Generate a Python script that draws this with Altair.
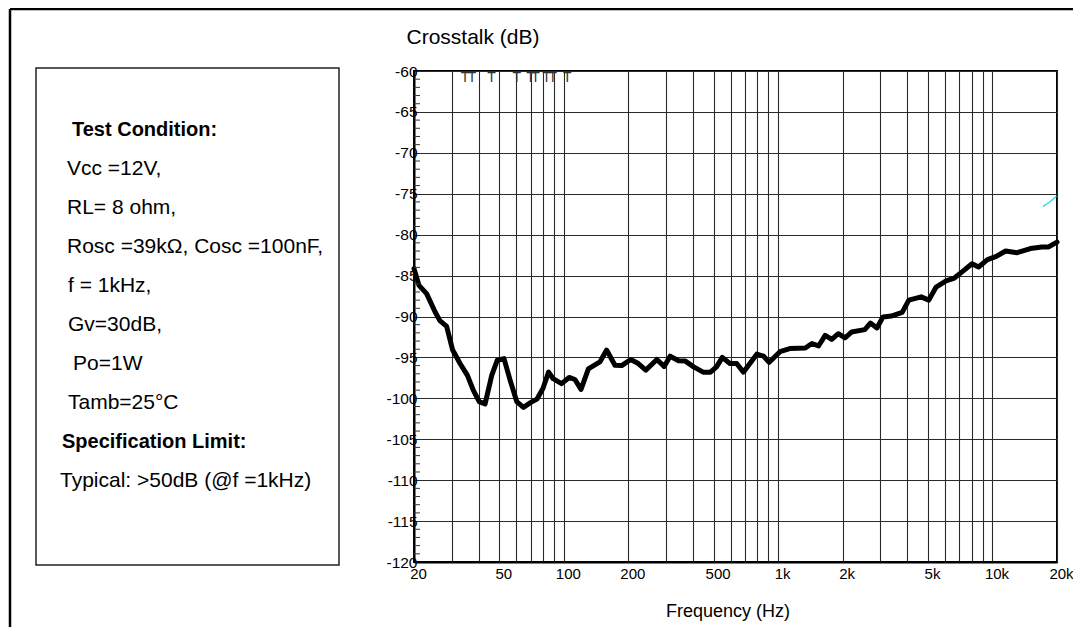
import altair as alt
import pandas as pd

# ---------------- data ----------------
freq_hz = [20, 21.1, 22.9, 25.1, 26.4, 28.4, 30.3, 32.8, 35.5, 37.8, 40.3, 42.9, 46.1, 48.9,
           52.6, 56.2, 60.3, 64.8, 70.2, 74.9, 79.9, 84.9, 89.2, 97.6, 105.9, 112.7, 120.3,
           130.2, 147.3, 158.4, 173.2, 186.2, 205.1, 222.7, 241.3, 271.7, 293.8, 313.5, 343.2,
           369.1, 403.5, 446.6, 483.4, 515.8, 548.9, 595.6, 640.4, 688.5, 739.6, 795, 855,
           908, 1020, 1142, 1339, 1437, 1543, 1657, 1778, 1909, 2050, 2200, 2536, 2694, 2892,
           3083, 3371, 3791, 4070, 4648, 5044, 5458, 6075, 6641, 7211, 8026, 8610, 9476,
           10420, 11520, 13030, 15030, 17000, 18280, 20000]
crosstalk_db = [-84.15, -86.2, -87.2, -89.45, -90.5, -91.2, -94.1, -95.75, -97.2, -99.0, -100.4,
                -100.7, -97.2, -95.35, -95.15, -97.8, -100.4, -101.1, -100.5, -100.1, -98.8,
                -96.8, -97.6, -98.2, -97.45, -97.7, -98.9, -96.4, -95.55, -94.1, -95.95, -96.0,
                -95.25, -95.75, -96.55, -95.25, -96.1, -94.85, -95.4, -95.45, -96.15, -96.8,
                -96.8, -96.15, -95.0, -95.75, -95.75, -96.8, -95.7, -94.6, -94.85, -95.6, -94.3,
                -93.9, -93.85, -93.3, -93.6, -92.3, -92.8, -92.1, -92.6, -91.9, -91.6, -90.8,
                -91.4, -90.05, -89.95, -89.5, -88.0, -87.6, -88.0, -86.4, -85.65, -85.3, -84.55,
                -83.55, -83.95, -83.05, -82.65, -82.0, -82.2, -81.7, -81.5, -81.5, -80.9]

cyan_freq = [17190, 18280, 19900]
cyan_db = [-76.55, -76.1, -75.3]

marker_freq = [34.6, 37.3, 46.0, 60.3, 69.9, 73.7, 83.0, 88.8, 103.9]
marker_db = [-60.8] * len(marker_freq)

grid_freq = [20, 30, 40, 50, 60, 70, 80, 90, 100, 200, 300, 400, 500, 600, 700, 800, 900,
             1000, 2000, 3000, 4000, 5000, 6000, 7000, 8000, 9000, 10000, 20000]
label_freq = [20, 50, 100, 200, 500, 1000, 2000, 5000, 10000, 20000]
label_text = ["20", "50", "100", "200", "500", "1k", "2k", "5k", "10k", "20k"]
y_ticks = list(range(-120, -55, 5))
minor_y = [v for v in range(-119, -60) if v % 5 != 0]

info_lines = ["Test Condition:", "Vcc =12V,", "RL= 8 ohm,", "Rosc =39k\u03a9, Cosc =100nF,",
              "f = 1kHz,", "Gv=30dB,", "Po=1W", "Tamb=25\u00b0C", "Specification Limit:",
              "Typical: >50dB (@f =1kHz)"]
info_bold = [True, False, False, False, False, False, False, False, True, False]

# ---------------- layout ----------------
W, H = 643, 491
PAD = {"left": 406, "top": 63, "right": 16, "bottom": 65}
FONT = "Liberation Sans Narrow, Liberation Sans, Arial, sans-serif"
FONT_B = "Liberation Sans, Arial, sans-serif"
info_x = [-342, -347, -347, -347, -346, -346, -341, -346, -352, -354]
info_y0, info_dy = 59, 39

one = pd.DataFrame({"k": [0]})

xscale = alt.Scale(type="log", domain=[20, 20000], nice=False)
yscale = alt.Scale(domain=[-120, -60], nice=False, zero=False)

label_expr = " : ".join(
    f"datum.value == {v} ? '{t}'" for v, t in zip(label_freq, label_text)) + " : ''"

df = pd.DataFrame({"f": freq_hz, "db": crosstalk_db})

curve = alt.Chart(df).mark_line(color="black", strokeWidth=5, strokeJoin="round",
                                strokeCap="round").encode(
    x=alt.X("f:Q", scale=xscale,
            axis=alt.Axis(values=grid_freq, labelExpr=label_expr, title=None, grid=True,
                          gridColor="#2a2a2a", gridWidth=1.1, gridOpacity=1, tickSize=0,
                          domainColor="black", domainWidth=2, labelPadding=4,
                          labelOffset=4, labelFont=FONT, labelFontSize=15,
                          labelColor="black", labelFlush=False, labelOverlap=False)),
    y=alt.Y("db:Q", scale=yscale,
            axis=alt.Axis(values=y_ticks, labelExpr="'' + datum.value", title=None,
                          grid=True, gridColor="#2a2a2a", gridWidth=1.1, gridOpacity=1,
                          tickSize=0, domainColor="black", domainWidth=2, labelPadding=-3,
                          labelFont=FONT, labelFontSize=15.5, labelColor="black",
                          labelFlush=False, labelOverlap=False)),
)

cyan = alt.Chart(pd.DataFrame({"f": cyan_freq, "db": cyan_db})).mark_line(
    color="#22dddd", strokeWidth=1.4).encode(x=alt.X("f:Q", scale=xscale),
                                             y=alt.Y("db:Q", scale=yscale))

markers = alt.Chart(pd.DataFrame({"f": marker_freq, "db": marker_db})).mark_text(
    text="T", font=FONT, fontSize=14, color="#333", baseline="middle").encode(
    x=alt.X("f:Q", scale=xscale), y=alt.Y("db:Q", scale=yscale))

minor = alt.Chart(pd.DataFrame({"v": minor_y})).mark_rule(color="#333", strokeWidth=1).encode(
    x=alt.value(0), x2=alt.value(6), y=alt.Y("v:Q", scale=yscale))

layers = [curve, cyan, markers, minor]

# outer frame (left and top edges) and info box
layers.append(alt.Chart(one).mark_rule(color="black", strokeWidth=2.5).encode(
    x=alt.value(-404), y=alt.value(-62), y2=alt.value(H + PAD["bottom"])))
layers.append(alt.Chart(one).mark_rule(color="black", strokeWidth=2.5).encode(
    x=alt.value(-404), x2=alt.value(W + PAD["right"]), y=alt.value(-62)))
layers.append(alt.Chart(one).mark_rect(fillOpacity=0, stroke="#222", strokeWidth=1.5).encode(
    x=alt.value(-378), x2=alt.value(-75), y=alt.value(-3), y2=alt.value(494)))

for i, (txt, bold) in enumerate(zip(info_lines, info_bold)):
    layers.append(alt.Chart(one).mark_text(
        text=txt, align="left", baseline="middle",
        font=FONT_B if bold else FONT, fontSize=20 if bold else 21,
        fontWeight="bold" if bold else "normal", color="black").encode(
        x=alt.value(info_x[i]), y=alt.value(info_y0 + i * info_dy)))

layers.append(alt.Chart(one).mark_text(
    text="Crosstalk (dB)", align="center", baseline="middle", font=FONT, fontSize=21,
    color="black").encode(x=alt.value(59), y=alt.value(-33)))
layers.append(alt.Chart(one).mark_text(
    text="Frequency (Hz)", align="center", baseline="middle", font=FONT, fontSize=18,
    color="black").encode(x=alt.value(314), y=alt.value(541)))

chart = alt.layer(*layers).properties(
    width=W, height=H, padding=PAD, autosize=alt.AutoSizeParams(type="none"),
    background="white",
).configure_view(stroke="black", strokeWidth=2)

chart.save("out.html", embed_options={"renderer": "svg", "actions": False})
